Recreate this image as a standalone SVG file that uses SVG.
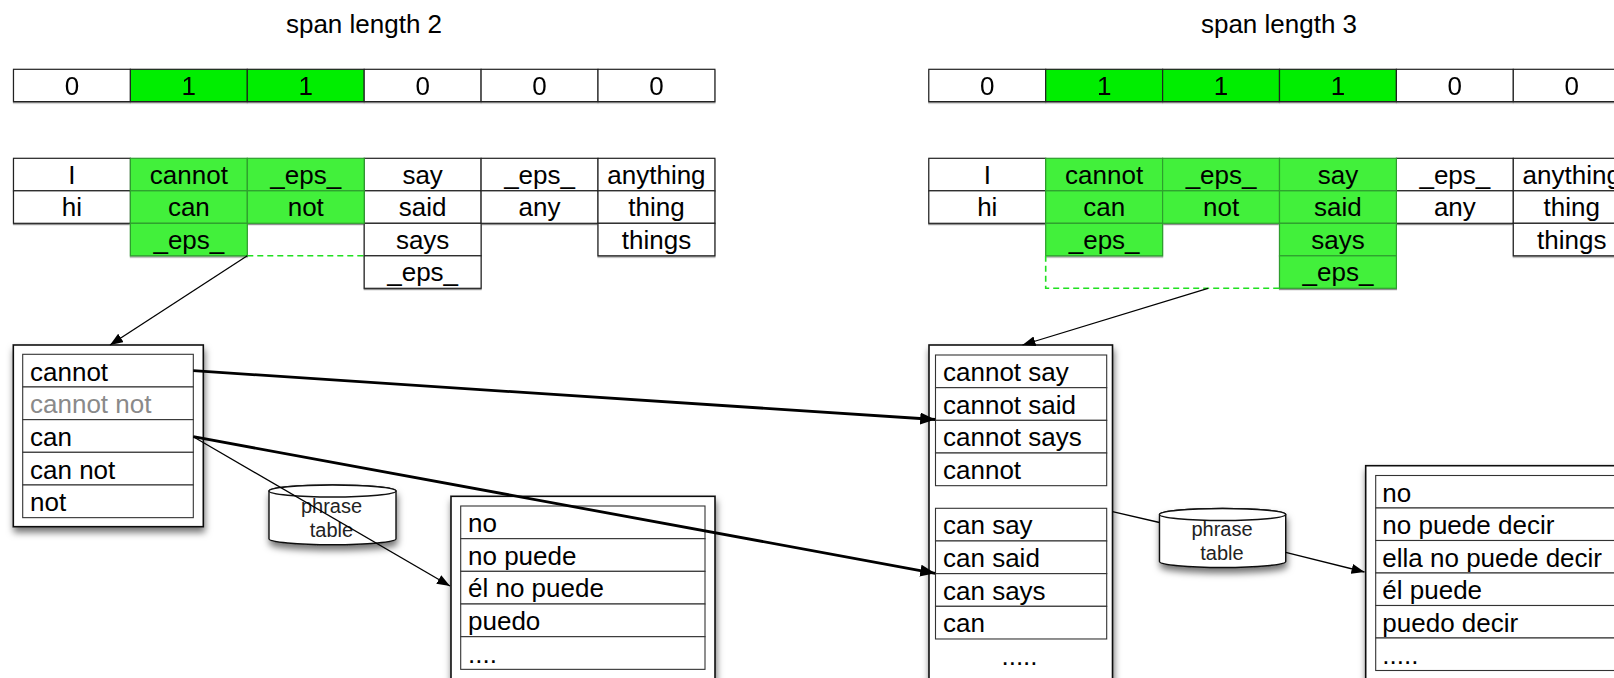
<svg xmlns="http://www.w3.org/2000/svg" width="1614" height="678" viewBox="0 0 1614 678">
  <defs>
    <style>
      text { font-family: "Liberation Sans", Arial, Helvetica, sans-serif; fill: #000; }
      .t26 { font-size: 26px; }
      .mid { text-anchor: middle; }
      .small { font-size: 20px; text-anchor: middle; fill: #222; }
      .grey { fill: #8a8a8a; }
      .cell { fill: #fff; stroke: #222; stroke-width: 1.2; }
      .bit { fill: #00ee00; stroke: #222; stroke-width: 1.2; }
      .hit { fill: #42f03a; stroke: #2f9e2f; stroke-width: 1.2; }
      .dash { fill: none; stroke: #1fe01f; stroke-width: 1.6; stroke-dasharray: 6 4; }
      .frame { fill: #fff; stroke: #111; stroke-width: 1.6; }
      .row { fill: #fff; stroke: #333; stroke-width: 1.1; }
      .drum { fill: #fff; stroke: #111; stroke-width: 1.4; }
      .thin { fill: none; stroke: #000; stroke-width: 1.3; }
      .thick { fill: none; stroke: #000; stroke-width: 2.8; }
    </style>
    <filter id="shadow" x="-20%" y="-20%" width="140%" height="150%">
      <feDropShadow dx="1" dy="5" stdDeviation="3.5" flood-color="#000" flood-opacity="0.55"/>
    </filter>
    <filter id="soft" x="-5%" y="-20%" width="110%" height="160%">
      <feDropShadow dx="0" dy="1.2" stdDeviation="0.6" flood-color="#000" flood-opacity="0.45"/>
    </filter>
    <marker id="arrow" markerUnits="userSpaceOnUse" markerWidth="14" markerHeight="10" refX="13" refY="5" orient="auto">
      <path d="M0,0 L13,5 L0,10 z" fill="#000"/>
    </marker>
    <marker id="arrowBold" markerUnits="userSpaceOnUse" markerWidth="16" markerHeight="12" refX="15" refY="6" orient="auto">
      <path d="M0,0 L15,6 L0,12 z" fill="#000"/>
    </marker>
  </defs>

  <rect width="1614" height="678" fill="#fff"/>

  <!-- ===== span length 2 ===== -->
  <g id="title-span2">
    <text class="t26 mid" x="364" y="33">span length 2</text>
  </g>

  <g id="bits-span2" filter="url(#soft)">
    <rect class="cell" x="13.5" y="69.3" width="116.9" height="32.3"/>
    <rect class="bit" x="130.4" y="69.3" width="116.9" height="32.3"/>
    <rect class="bit" x="247.3" y="69.3" width="116.9" height="32.3"/>
    <rect class="cell" x="364.2" y="69.3" width="116.9" height="32.3"/>
    <rect class="cell" x="481.1" y="69.3" width="116.9" height="32.3"/>
    <rect class="cell" x="598" y="69.3" width="116.9" height="32.3"/>
    <g class="t26 mid">
      <text x="71.95" y="95">0</text>
      <text x="188.85" y="95">1</text>
      <text x="305.75" y="95">1</text>
      <text x="422.65" y="95">0</text>
      <text x="539.55" y="95">0</text>
      <text x="656.45" y="95">0</text>
    </g>
  </g>

  <g id="options-span2">
    <g filter="url(#soft)">
      <rect class="cell" x="13.5" y="158.3" width="116.9" height="32.5"/>
      <rect class="cell" x="13.5" y="190.8" width="116.9" height="32.5"/>
      <rect class="cell" x="364.2" y="158.3" width="116.9" height="32.5"/>
      <rect class="cell" x="364.2" y="190.8" width="116.9" height="32.5"/>
      <rect class="cell" x="364.2" y="223.3" width="116.9" height="32.5"/>
      <rect class="cell" x="364.2" y="255.8" width="116.9" height="32.5"/>
      <rect class="cell" x="481.1" y="158.3" width="116.9" height="32.5"/>
      <rect class="cell" x="481.1" y="190.8" width="116.9" height="32.5"/>
      <rect class="cell" x="598" y="158.3" width="116.9" height="32.5"/>
      <rect class="cell" x="598" y="190.8" width="116.9" height="32.5"/>
      <rect class="cell" x="598" y="223.3" width="116.9" height="32.5"/>
      <rect class="hit" x="130.4" y="158.3" width="116.9" height="32.5"/>
      <rect class="hit" x="130.4" y="190.8" width="116.9" height="32.5"/>
      <rect class="hit" x="130.4" y="223.3" width="116.9" height="32.5"/>
      <rect class="hit" x="247.3" y="158.3" width="116.9" height="32.5"/>
      <rect class="hit" x="247.3" y="190.8" width="116.9" height="32.5"/>
    </g>
    <path class="dash" d="M247.3,255.8 H364.2"/>
    <g class="t26 mid">
      <text x="71.95" y="183.8">I</text>
      <text x="71.95" y="216.3">hi</text>
      <text x="188.85" y="183.8">cannot</text>
      <text x="188.85" y="216.3">can</text>
      <text x="188.85" y="248.8">_eps_</text>
      <text x="305.75" y="183.8">_eps_</text>
      <text x="305.75" y="216.3">not</text>
      <text x="422.65" y="183.8">say</text>
      <text x="422.65" y="216.3">said</text>
      <text x="422.65" y="248.8">says</text>
      <text x="422.65" y="281.3">_eps_</text>
      <text x="539.55" y="183.8">_eps_</text>
      <text x="539.55" y="216.3">any</text>
      <text x="656.45" y="183.8">anything</text>
      <text x="656.45" y="216.3">thing</text>
      <text x="656.45" y="248.8">things</text>
    </g>
  </g>

  <g id="source-list-span2">
    <rect class="frame" x="13.3" y="345" width="190" height="181.7" filter="url(#shadow)"/>
    <rect class="row" x="22.7" y="354.3" width="170.6" height="32.67"/>
    <rect class="row" x="22.7" y="386.97" width="170.6" height="32.67"/>
    <rect class="row" x="22.7" y="419.64" width="170.6" height="32.67"/>
    <rect class="row" x="22.7" y="452.31" width="170.6" height="32.67"/>
    <rect class="row" x="22.7" y="484.98" width="170.6" height="32.67"/>
    <g class="t26">
      <text x="30" y="380.5">cannot</text>
      <text x="30" y="413.2" class="grey">cannot not</text>
      <text x="30" y="445.9">can</text>
      <text x="30" y="478.5">can not</text>
      <text x="30" y="511.2">not</text>
    </g>
  </g>

  <g id="phrase-table-left">
    <path class="drum" filter="url(#shadow)" d="M269,491 A63.5,6 0 0 1 396,491 V538.7 A63.5,6 0 0 1 269,538.7 Z"/>
    <ellipse class="drum" cx="332.5" cy="491" rx="63.5" ry="6"/>
    <text class="small" x="331.5" y="513.3">phrase</text>
    <text class="small" x="331.5" y="536.7">table</text>
  </g>

  <g id="target-list-span2">
    <rect class="frame" x="451" y="496.3" width="264" height="210" filter="url(#shadow)"/>
    <rect class="row" x="460.7" y="506" width="244.3" height="32.67"/>
    <rect class="row" x="460.7" y="538.67" width="244.3" height="32.67"/>
    <rect class="row" x="460.7" y="571.34" width="244.3" height="32.67"/>
    <rect class="row" x="460.7" y="604.01" width="244.3" height="32.67"/>
    <rect class="row" x="460.7" y="636.68" width="244.3" height="32.67"/>
    <g class="t26">
      <text x="468" y="532">no</text>
      <text x="468" y="564.7">no puede</text>
      <text x="468" y="597.4">él no puede</text>
      <text x="468" y="630">puedo</text>
      <text x="468" y="662.7">....</text>
    </g>
  </g>

  <!-- ===== span length 3 ===== -->
  <g id="title-span3">
    <text class="t26 mid" x="1279" y="33">span length 3</text>
  </g>

  <g id="bits-span3" filter="url(#soft)">
    <rect class="cell" x="928.8" y="69.3" width="116.9" height="32.3"/>
    <rect class="bit" x="1045.7" y="69.3" width="116.9" height="32.3"/>
    <rect class="bit" x="1162.6" y="69.3" width="116.9" height="32.3"/>
    <rect class="bit" x="1279.5" y="69.3" width="116.9" height="32.3"/>
    <rect class="cell" x="1396.4" y="69.3" width="116.9" height="32.3"/>
    <rect class="cell" x="1513.3" y="69.3" width="116.9" height="32.3"/>
    <g class="t26 mid">
      <text x="987.25" y="95">0</text>
      <text x="1104.15" y="95">1</text>
      <text x="1221.05" y="95">1</text>
      <text x="1337.95" y="95">1</text>
      <text x="1454.85" y="95">0</text>
      <text x="1571.75" y="95">0</text>
    </g>
  </g>

  <g id="options-span3">
    <g filter="url(#soft)">
      <rect class="cell" x="928.8" y="158.3" width="116.9" height="32.5"/>
      <rect class="cell" x="928.8" y="190.8" width="116.9" height="32.5"/>
      <rect class="cell" x="1396.4" y="158.3" width="116.9" height="32.5"/>
      <rect class="cell" x="1396.4" y="190.8" width="116.9" height="32.5"/>
      <rect class="cell" x="1513.3" y="158.3" width="116.9" height="32.5"/>
      <rect class="cell" x="1513.3" y="190.8" width="116.9" height="32.5"/>
      <rect class="cell" x="1513.3" y="223.3" width="116.9" height="32.5"/>
      <rect class="hit" x="1045.7" y="158.3" width="116.9" height="32.5"/>
      <rect class="hit" x="1045.7" y="190.8" width="116.9" height="32.5"/>
      <rect class="hit" x="1045.7" y="223.3" width="116.9" height="32.5"/>
      <rect class="hit" x="1162.6" y="158.3" width="116.9" height="32.5"/>
      <rect class="hit" x="1162.6" y="190.8" width="116.9" height="32.5"/>
      <rect class="hit" x="1279.5" y="158.3" width="116.9" height="32.5"/>
      <rect class="hit" x="1279.5" y="190.8" width="116.9" height="32.5"/>
      <rect class="hit" x="1279.5" y="223.3" width="116.9" height="32.5"/>
      <rect class="hit" x="1279.5" y="255.8" width="116.9" height="32.5"/>
    </g>
    <path class="dash" d="M1045.7,255.8 V288.3 H1279.5"/>
    <g class="t26 mid">
      <text x="987.25" y="183.8">I</text>
      <text x="987.25" y="216.3">hi</text>
      <text x="1104.15" y="183.8">cannot</text>
      <text x="1104.15" y="216.3">can</text>
      <text x="1104.15" y="248.8">_eps_</text>
      <text x="1221.05" y="183.8">_eps_</text>
      <text x="1221.05" y="216.3">not</text>
      <text x="1337.95" y="183.8">say</text>
      <text x="1337.95" y="216.3">said</text>
      <text x="1337.95" y="248.8">says</text>
      <text x="1337.95" y="281.3">_eps_</text>
      <text x="1454.85" y="183.8">_eps_</text>
      <text x="1454.85" y="216.3">any</text>
      <text x="1571.75" y="183.8">anything</text>
      <text x="1571.75" y="216.3">thing</text>
      <text x="1571.75" y="248.8">things</text>
    </g>
  </g>

  <g id="source-list-span3">
    <rect class="frame" x="929" y="345" width="183.5" height="360" filter="url(#shadow)"/>
    <rect class="row" x="935.5" y="355" width="171.2" height="32.67"/>
    <rect class="row" x="935.5" y="387.67" width="171.2" height="32.67"/>
    <rect class="row" x="935.5" y="420.34" width="171.2" height="32.67"/>
    <rect class="row" x="935.5" y="453.01" width="171.2" height="32.67"/>
    <rect class="row" x="935.5" y="508.3" width="171.2" height="32.67"/>
    <rect class="row" x="935.5" y="540.97" width="171.2" height="32.67"/>
    <rect class="row" x="935.5" y="573.64" width="171.2" height="32.67"/>
    <rect class="row" x="935.5" y="606.31" width="171.2" height="32.67"/>
    <g class="t26">
      <text x="943" y="381">cannot say</text>
      <text x="943" y="413.7">cannot said</text>
      <text x="943" y="446.3">cannot says</text>
      <text x="943" y="479">cannot</text>
      <text x="943" y="534.3">can say</text>
      <text x="943" y="567">can said</text>
      <text x="943" y="599.6">can says</text>
      <text x="943" y="632.3">can</text>
      <text class="mid" x="1019.5" y="665">.....</text>
    </g>
  </g>

  <g id="phrase-table-right">
    <path class="drum" filter="url(#shadow)" d="M1159.5,514.5 A63.1,6 0 0 1 1285.7,514.5 V561.5 A63.1,6 0 0 1 1159.5,561.5 Z"/>
    <ellipse class="drum" cx="1222.6" cy="514.5" rx="63.1" ry="6"/>
    <text class="small" x="1222" y="536">phrase</text>
    <text class="small" x="1222" y="560">table</text>
  </g>

  <g id="target-list-span3">
    <rect class="frame" x="1365.7" y="465.7" width="300" height="260" filter="url(#shadow)"/>
    <rect class="row" x="1375.7" y="475.5" width="280" height="32.5"/>
    <rect class="row" x="1375.7" y="508" width="280" height="32.5"/>
    <rect class="row" x="1375.7" y="540.5" width="280" height="32.5"/>
    <rect class="row" x="1375.7" y="573" width="280" height="32.5"/>
    <rect class="row" x="1375.7" y="605.5" width="280" height="32.5"/>
    <rect class="row" x="1375.7" y="638" width="280" height="32.5"/>
    <g class="t26">
      <text x="1382.3" y="501.5">no</text>
      <text x="1382.3" y="534">no puede decir</text>
      <text x="1382.3" y="566.5">ella no puede decir</text>
      <text x="1382.3" y="599">él puede</text>
      <text x="1382.3" y="631.5">puedo decir</text>
      <text x="1382.3" y="664">.....</text>
    </g>
  </g>

  <!-- ===== connectors ===== -->
  <g id="connectors">
    <line class="thin" x1="247.3" y1="255.8" x2="110" y2="345" marker-end="url(#arrow)"/>
    <line class="thin" x1="1208" y1="288.3" x2="1022.5" y2="345" marker-end="url(#arrow)"/>
    <line class="thick" x1="193.3" y1="370.7" x2="935.2" y2="419.5" marker-end="url(#arrowBold)"/>
    <line class="thick" x1="193.3" y1="436.7" x2="935.2" y2="573.3" marker-end="url(#arrowBold)"/>
    <line class="thin" x1="193.3" y1="436.7" x2="450" y2="586" marker-end="url(#arrow)"/>
    <line class="thin" x1="1112.5" y1="511.6" x2="1159.5" y2="522.5"/>
    <line class="thin" x1="1285.7" y1="552.3" x2="1364.5" y2="572" marker-end="url(#arrow)"/>
  </g>
</svg>
